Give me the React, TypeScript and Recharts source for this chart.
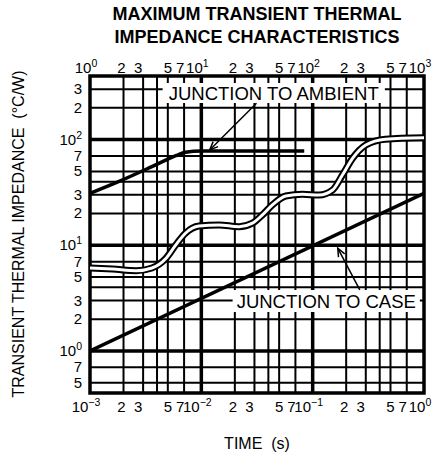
import { LineChart, Line, XAxis, YAxis, CartesianGrid, ReferenceLine, ReferenceArea } from 'recharts'

// junction to case (bottom time axis, s)
const caseTime = [0.001, 1]
const caseZ = [1.0, 31]

// junction to ambient (top time axis, s)
const ambientTime = [1, 1.8, 3.6, 5.9, 7.2, 10, 84]
const ambientZ = [31, 40, 55.5, 70.5, 76, 78, 78]

// stepped curve drawn as a hollow (white) line, bottom axis
const stepTime = [0.001, 0.0016, 0.0026, 0.0036, 0.0048, 0.0059, 0.0072, 0.0095, 0.0144, 0.0218, 0.0288, 0.0354, 0.0435, 0.0573, 0.081, 0.114, 0.151, 0.185, 0.228, 0.3, 0.45, 1]
const stepZ = [6.1, 5.95, 5.75, 6.1, 7.5, 10.1, 13.0, 15.2, 15.6, 15.0, 16.2, 19.4, 24.1, 29.3, 30.4, 29.9, 33.4, 46.2, 66.5, 89, 101, 104]

const bottomTicks = [0.001, 0.002, 0.003, 0.004, 0.005, 0.007, 0.01, 0.02, 0.03, 0.04, 0.05, 0.07, 0.1, 0.2, 0.3, 0.4, 0.5, 0.7, 1]
const topTicks = [1, 2, 3, 4, 5, 7, 10, 20, 30, 40, 50, 70, 100, 200, 300, 400, 500, 700, 1000]
const yTicks = [0.4, 0.5, 0.7, 1, 2, 3, 4, 5, 7, 10, 20, 30, 40, 50, 70, 100, 200, 300, 400]
const xDecades = [0.01, 0.1]
const yDecades = [1, 10, 100]

const caseData = caseTime.map((t, i) => ({ t, z: caseZ[i] }))
const ambientData = ambientTime.map((t, i) => ({ t, z: ambientZ[i] }))
const stepData = stepTime.map((t, i) => ({ t, z: stepZ[i] }))

const FONT = '"Liberation Sans", Arial, Helvetica, sans-serif'

function split(v: number) {
  const e = Math.floor(Math.log10(v) + 1e-9)
  const m = Math.round(v / Math.pow(10, e))
  return { e, m }
}

// small nudges so labels sit like the typeset original
const nudge: { [m: number]: number } = { 1: -4, 2: -2, 3: -5, 5: 0, 7: -4 }

function tickText(v: number) {
  const { e, m } = split(v)
  if (m === 1) {
    return (
      <>
        <tspan>10</tspan>
        <tspan dy={-6} fontSize={10.5}>{e < 0 ? '\u2212' + -e : String(e)}</tspan>
      </>
    )
  }
  return String(m)
}

const BottomTick = (props: any) => {
  const { x, y, payload } = props
  const { m } = split(payload.value)
  if (m === 4) return null
  return (
    <text x={x + (nudge[m] ?? 0)} y={y + 11} textAnchor="middle" fontSize={15} fill="#000" fontFamily={FONT}>
      {tickText(payload.value)}
    </text>
  )
}

const TopTick = (props: any) => {
  const { x, y, payload } = props
  const { m } = split(payload.value)
  if (m === 4) return null
  return (
    <text x={x + (nudge[m] ?? 0)} y={y + 5} textAnchor="middle" fontSize={15} fill="#000" fontFamily={FONT}>
      {tickText(payload.value)}
    </text>
  )
}

const LeftTick = (props: any) => {
  const { x, y, payload } = props
  const { m } = split(payload.value)
  if (m === 4) return null
  return (
    <text x={x} y={y + 5} textAnchor="end" fontSize={15} fill="#000" fontFamily={FONT}>
      {tickText(payload.value)}
    </text>
  )
}

const Arrow = (p: any) => {
  const { x1, y1, x2, y2 } = p
  const a = Math.atan2(y2 - y1, x2 - x1)
  const len = 9
  const w = 0.4
  const ax = x2 - len * Math.cos(a - w)
  const ay = y2 - len * Math.sin(a - w)
  const bx = x2 - len * Math.cos(a + w)
  const by = y2 - len * Math.sin(a + w)
  return (
    <g>
      <line x1={x1} y1={y1} x2={x2} y2={y2} stroke="#000" strokeWidth={1.5} />
      <path d={`M${ax},${ay}L${x2},${y2}L${bx},${by}`} fill="none" stroke="#000" strokeWidth={1.5} />
    </g>
  )
}

export default function App() {
  return (
    <div style={{ position: 'absolute', left: 0, top: 0, width: 443, height: 462, background: '#fff', fontFamily: FONT }}>
      <div style={{ position: 'absolute', left: 57, width: 400, top: 3, textAlign: 'center', fontSize: 18, lineHeight: '23px', fontWeight: 'bold', color: '#000' }}>
        MAXIMUM TRANSIENT THERMAL
        <br />
        IMPEDANCE CHARACTERISTICS
      </div>

      <LineChart width={443} height={462} margin={{ top: 46, right: 19, bottom: 39, left: 0 }} style={{ fontFamily: FONT }}>
        <CartesianGrid xAxisId="bottom" stroke="#000" strokeWidth={2} />
        <CartesianGrid xAxisId="bottom" stroke="#000" strokeWidth={3.5} verticalValues={xDecades} horizontalValues={yDecades} />
        <XAxis
          xAxisId="bottom"
          dataKey="t"
          type="number"
          scale="log"
          domain={[0.001, 1]}
          ticks={bottomTicks}
          allowDataOverflow
          axisLine={false}
          tickLine={false}
          height={30}
          tick={<BottomTick />}
          interval={0}
        />
        <XAxis
          xAxisId="top"
          orientation="top"
          dataKey="t"
          type="number"
          scale="log"
          domain={[1, 1000]}
          ticks={topTicks}
          allowDataOverflow
          axisLine={false}
          tickLine={false}
          height={30}
          tick={<TopTick />}
          interval={0}
        />
        <YAxis
          type="number"
          scale="log"
          domain={[0.4, 400]}
          ticks={yTicks}
          allowDataOverflow
          axisLine={false}
          tickLine={false}
          width={90}
          tick={<LeftTick />}
          interval={0}
        />

        <ReferenceArea
          xAxisId="bottom"
          x1={0.00449}
          x2={0.445}
          y1={222}
          y2={343}
          fill="#fff"
          fillOpacity={1}
          stroke="none"
          label={{ value: 'JUNCTION TO AMBIENT', position: 'center', fontSize: 18.5, fill: '#000', fontFamily: FONT }}
        />
        <ReferenceArea
          xAxisId="bottom"
          x1={0.0191}
          x2={0.918}
          y1={2.34}
          y2={3.78}
          fill="#fff"
          fillOpacity={1}
          stroke="none"
          label={{ value: 'JUNCTION TO CASE', position: 'center', fontSize: 18.5, fill: '#000', fontFamily: FONT }}
        />
        <ReferenceArea
          xAxisId="bottom"
          x1={0.001}
          x2={1}
          y1={0.4}
          y2={400}
          fill="none"
          stroke="#000"
          strokeWidth={3.5}
        />

        <Line xAxisId="bottom" data={caseData} dataKey="z" type="linear" stroke="#000" strokeWidth={3.5} dot={false} activeDot={false} isAnimationActive={false} />
        <Line xAxisId="top" data={ambientData} dataKey="z" type="monotone" stroke="#000" strokeWidth={3.5} dot={false} activeDot={false} isAnimationActive={false} />
        <Line xAxisId="bottom" data={stepData} dataKey="z" type="monotone" stroke="#000" strokeWidth={7} dot={false} activeDot={false} isAnimationActive={false} />
        <Line xAxisId="bottom" data={stepData} dataKey="z" type="monotone" stroke="#fff" strokeWidth={3} dot={false} activeDot={false} isAnimationActive={false} />

        <ReferenceLine xAxisId="bottom" segment={[{ x: 0.0313, y: 221 }, { x: 0.0119, y: 79.8 }]} shape={Arrow} />
        <ReferenceLine xAxisId="bottom" segment={[{ x: 0.265, y: 3.78 }, { x: 0.168, y: 9.4 }]} shape={Arrow} />
      </LineChart>

      <div style={{ position: 'absolute', left: 19, top: 234, transform: 'translate(-50%, -50%) rotate(-90deg)', whiteSpace: 'pre', fontSize: 16, color: '#000' }}>
        {'TRANSIENT THERMAL IMPEDANCE  (\u00B0C/W)'}
      </div>
      <div style={{ position: 'absolute', left: 257, top: 444, transform: 'translate(-50%, -50%)', whiteSpace: 'pre', fontSize: 16, color: '#000' }}>
        {'TIME  (s)'}
      </div>
    </div>
  )
}
